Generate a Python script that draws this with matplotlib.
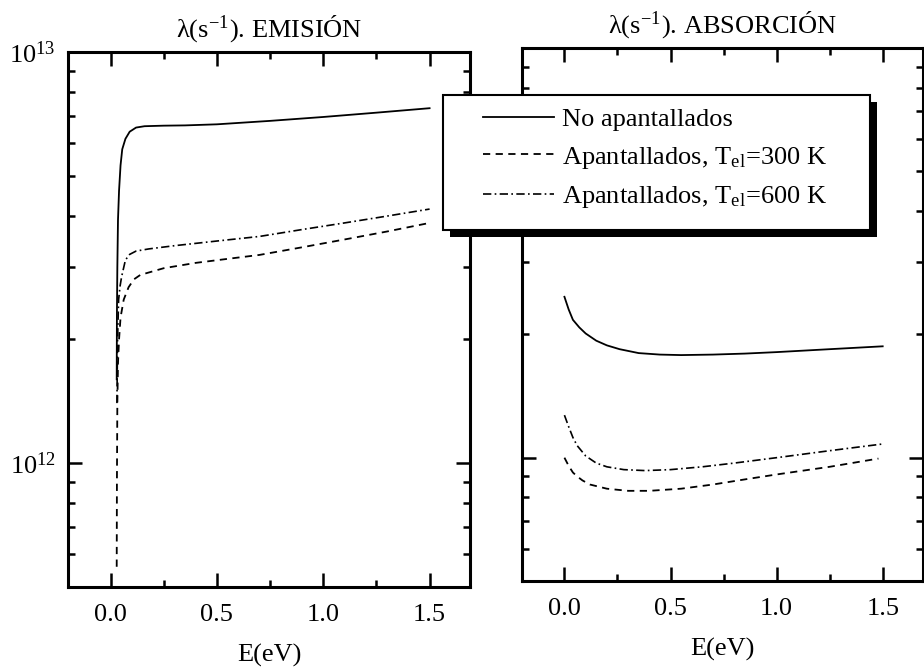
import matplotlib
matplotlib.use("Agg")
import matplotlib.pyplot as plt
from matplotlib.lines import Line2D
from matplotlib.patches import Rectangle
from matplotlib.ticker import LogLocator, MultipleLocator, NullFormatter

plt.rcParams["font.family"] = ["Liberation Serif", "DejaVu Serif"]
plt.rcParams["mathtext.fontset"] = "stix"

# --- emission (left panel) ---
E_em_sol = [0.029, 0.030, 0.032, 0.035, 0.040, 0.047, 0.055, 0.070, 0.090, 0.12,
            0.16, 0.25, 0.35, 0.5, 0.75, 1.0, 1.25, 1.5]
em_sol = [1.6e12, 2.3e12, 3.0e12, 3.9e12, 4.6e12, 5.3e12, 5.8e12, 6.15e12, 6.4e12, 6.55e12,
          6.6e12, 6.62e12, 6.63e12, 6.67e12, 6.8e12, 6.95e12, 7.12e12, 7.3e12]

E_em_300 = [0.029, 0.030, 0.032, 0.035, 0.040, 0.047, 0.062, 0.085, 0.11, 0.14,
            0.25, 0.4, 0.55, 0.7, 0.9, 1.1, 1.3, 1.5]
em_300 = [5.6e11, 9e11, 1.4e12, 1.75e12, 2.0e12, 2.26e12, 2.5e12, 2.68e12, 2.8e12, 2.87e12,
          2.98e12, 3.07e12, 3.14e12, 3.21e12, 3.35e12, 3.5e12, 3.66e12, 3.84e12]

E_em_600 = [0.030, 0.033, 0.038, 0.045, 0.052, 0.07, 0.09, 0.12, 0.18, 0.3,
            0.5, 0.7, 0.9, 1.1, 1.3, 1.5]
em_600 = [1.4e12, 2.0e12, 2.5e12, 2.7e12, 2.84e12, 3.12e12, 3.22e12, 3.28e12, 3.32e12, 3.38e12,
          3.47e12, 3.56e12, 3.7e12, 3.84e12, 3.99e12, 4.15e12]

# --- absorption (right panel) ---
E_ab_sol = [0.0, 0.02, 0.04, 0.07, 0.10, 0.15, 0.2, 0.26, 0.35, 0.45, 0.55, 0.7,
            0.85, 1.0, 1.25, 1.5]
ab_sol = [2.47e12, 2.3e12, 2.17e12, 2.08e12, 2.01e12, 1.93e12, 1.88e12, 1.84e12, 1.8e12,
          1.785e12, 1.78e12, 1.785e12, 1.795e12, 1.81e12, 1.84e12, 1.87e12]

E_ab_300 = [0.0, 0.02, 0.04, 0.06, 0.085, 0.12, 0.2, 0.3, 0.4, 0.55, 0.7, 0.85,
            1.0, 1.25, 1.48]
ab_300 = [1.0e12, 0.955e12, 0.92e12, 0.9e12, 0.88e12, 0.86e12, 0.84e12, 0.83e12, 0.83e12,
          0.84e12, 0.86e12, 0.885e12, 0.91e12, 0.95e12, 0.995e12]

E_ab_600 = [0.0, 0.02, 0.04, 0.06, 0.1, 0.15, 0.2, 0.28, 0.38, 0.5, 0.65, 0.8,
            1.0, 1.25, 1.5]
ab_600 = [1.27e12, 1.19e12, 1.12e12, 1.07e12, 1.01e12, 0.97e12, 0.95e12, 0.935e12, 0.93e12,
          0.935e12, 0.95e12, 0.97e12, 1.0e12, 1.04e12, 1.08e12]

labels = ["No apantallados",
          r"Apantallados, T$_{\mathregular{el}}$=300 K",
          r"Apantallados, T$_{\mathregular{el}}$=600 K"]
titles = [r"λ(s$^{\mathregular{-1}}$). EMISIÓN", r"λ(s$^{\mathregular{-1}}$). ABSORCIÓN"]

DASH = (0, (4, 3))
DASHDOT = (0, (5, 2, 1, 2))
W, H = 924, 668
FS = 19

fig = plt.figure(figsize=(W / 100, H / 100), dpi=100)
axL = fig.add_axes([68 / W, 1 - 587 / H, 402 / W, 535 / H])
axR = fig.add_axes([522 / W, 1 - 581 / H, 401 / W, 533 / H])

def style(ax, title, ylabels):
    ax.set_yscale("log")
    ax.set_xlim(-0.2, 1.69)
    ax.set_ylim(5e11, 1e13)
    ax.xaxis.set_major_locator(MultipleLocator(0.5))
    ax.xaxis.set_minor_locator(MultipleLocator(0.25))
    ax.xaxis.set_major_formatter(plt.FuncFormatter(lambda v, p: f"{v:.1f}"))
    ax.yaxis.set_major_locator(LogLocator(base=10, numticks=10))
    ax.yaxis.set_minor_locator(LogLocator(base=10, subs=range(2, 10), numticks=20))
    ax.yaxis.set_minor_formatter(NullFormatter())
    ax.tick_params(which="both", direction="in", top=True, right=True, width=1.8,
                   labelsize=FS, colors="black")
    ax.tick_params(which="major", length=10)
    ax.tick_params(axis="x", which="major", pad=12)
    ax.tick_params(axis="y", which="major", pad=9)
    ax.tick_params(which="minor", length=5)
    if not ylabels:
        ax.tick_params(axis="y", which="both", labelleft=False)
    for s in ax.spines.values():
        s.set_linewidth(2.2)
    ax.set_xlabel("E(eV)", fontsize=FS, labelpad=13)
    ax.set_title(title, fontsize=FS, pad=10)

style(axL, titles[0], True)
style(axR, titles[1], False)

axL.plot(E_em_sol, em_sol, color="black", lw=1.3, ls="-")
axL.plot(E_em_300, em_300, color="black", lw=1.3, ls=DASH)
axL.plot(E_em_600, em_600, color="black", lw=1.2, ls=DASHDOT)

axR.plot(E_ab_sol, ab_sol, color="black", lw=1.3, ls="-")
axR.plot(E_ab_300, ab_300, color="black", lw=1.3, ls=DASH)
axR.plot(E_ab_600, ab_600, color="black", lw=1.2, ls=DASHDOT)

# legend box with hard black shadow, spanning both panels
fig.patches.append(Rectangle((450 / W, 1 - 237 / H), 427 / W, 135 / H,
                             transform=fig.transFigure, facecolor="black",
                             edgecolor="none", zorder=4))
fig.patches.append(Rectangle((443 / W, 1 - 230 / H), 427 / W, 135 / H,
                             transform=fig.transFigure, facecolor="white",
                             edgecolor="black", lw=1.5, zorder=4.5))
handles = [Line2D([], [], color="black", lw=1.3, ls="-"),
           Line2D([], [], color="black", lw=1.3, ls=DASH),
           Line2D([], [], color="black", lw=1.2, ls=DASHDOT)]
fig.legend(handles, labels, loc="upper left", bbox_to_anchor=(483 / W, 1 - 108 / H),
           frameon=False, fontsize=FS, handlelength=2.7, handletextpad=0.3,
           borderpad=0, borderaxespad=0, labelspacing=0.5)

fig.savefig("out.png", dpi=100)
